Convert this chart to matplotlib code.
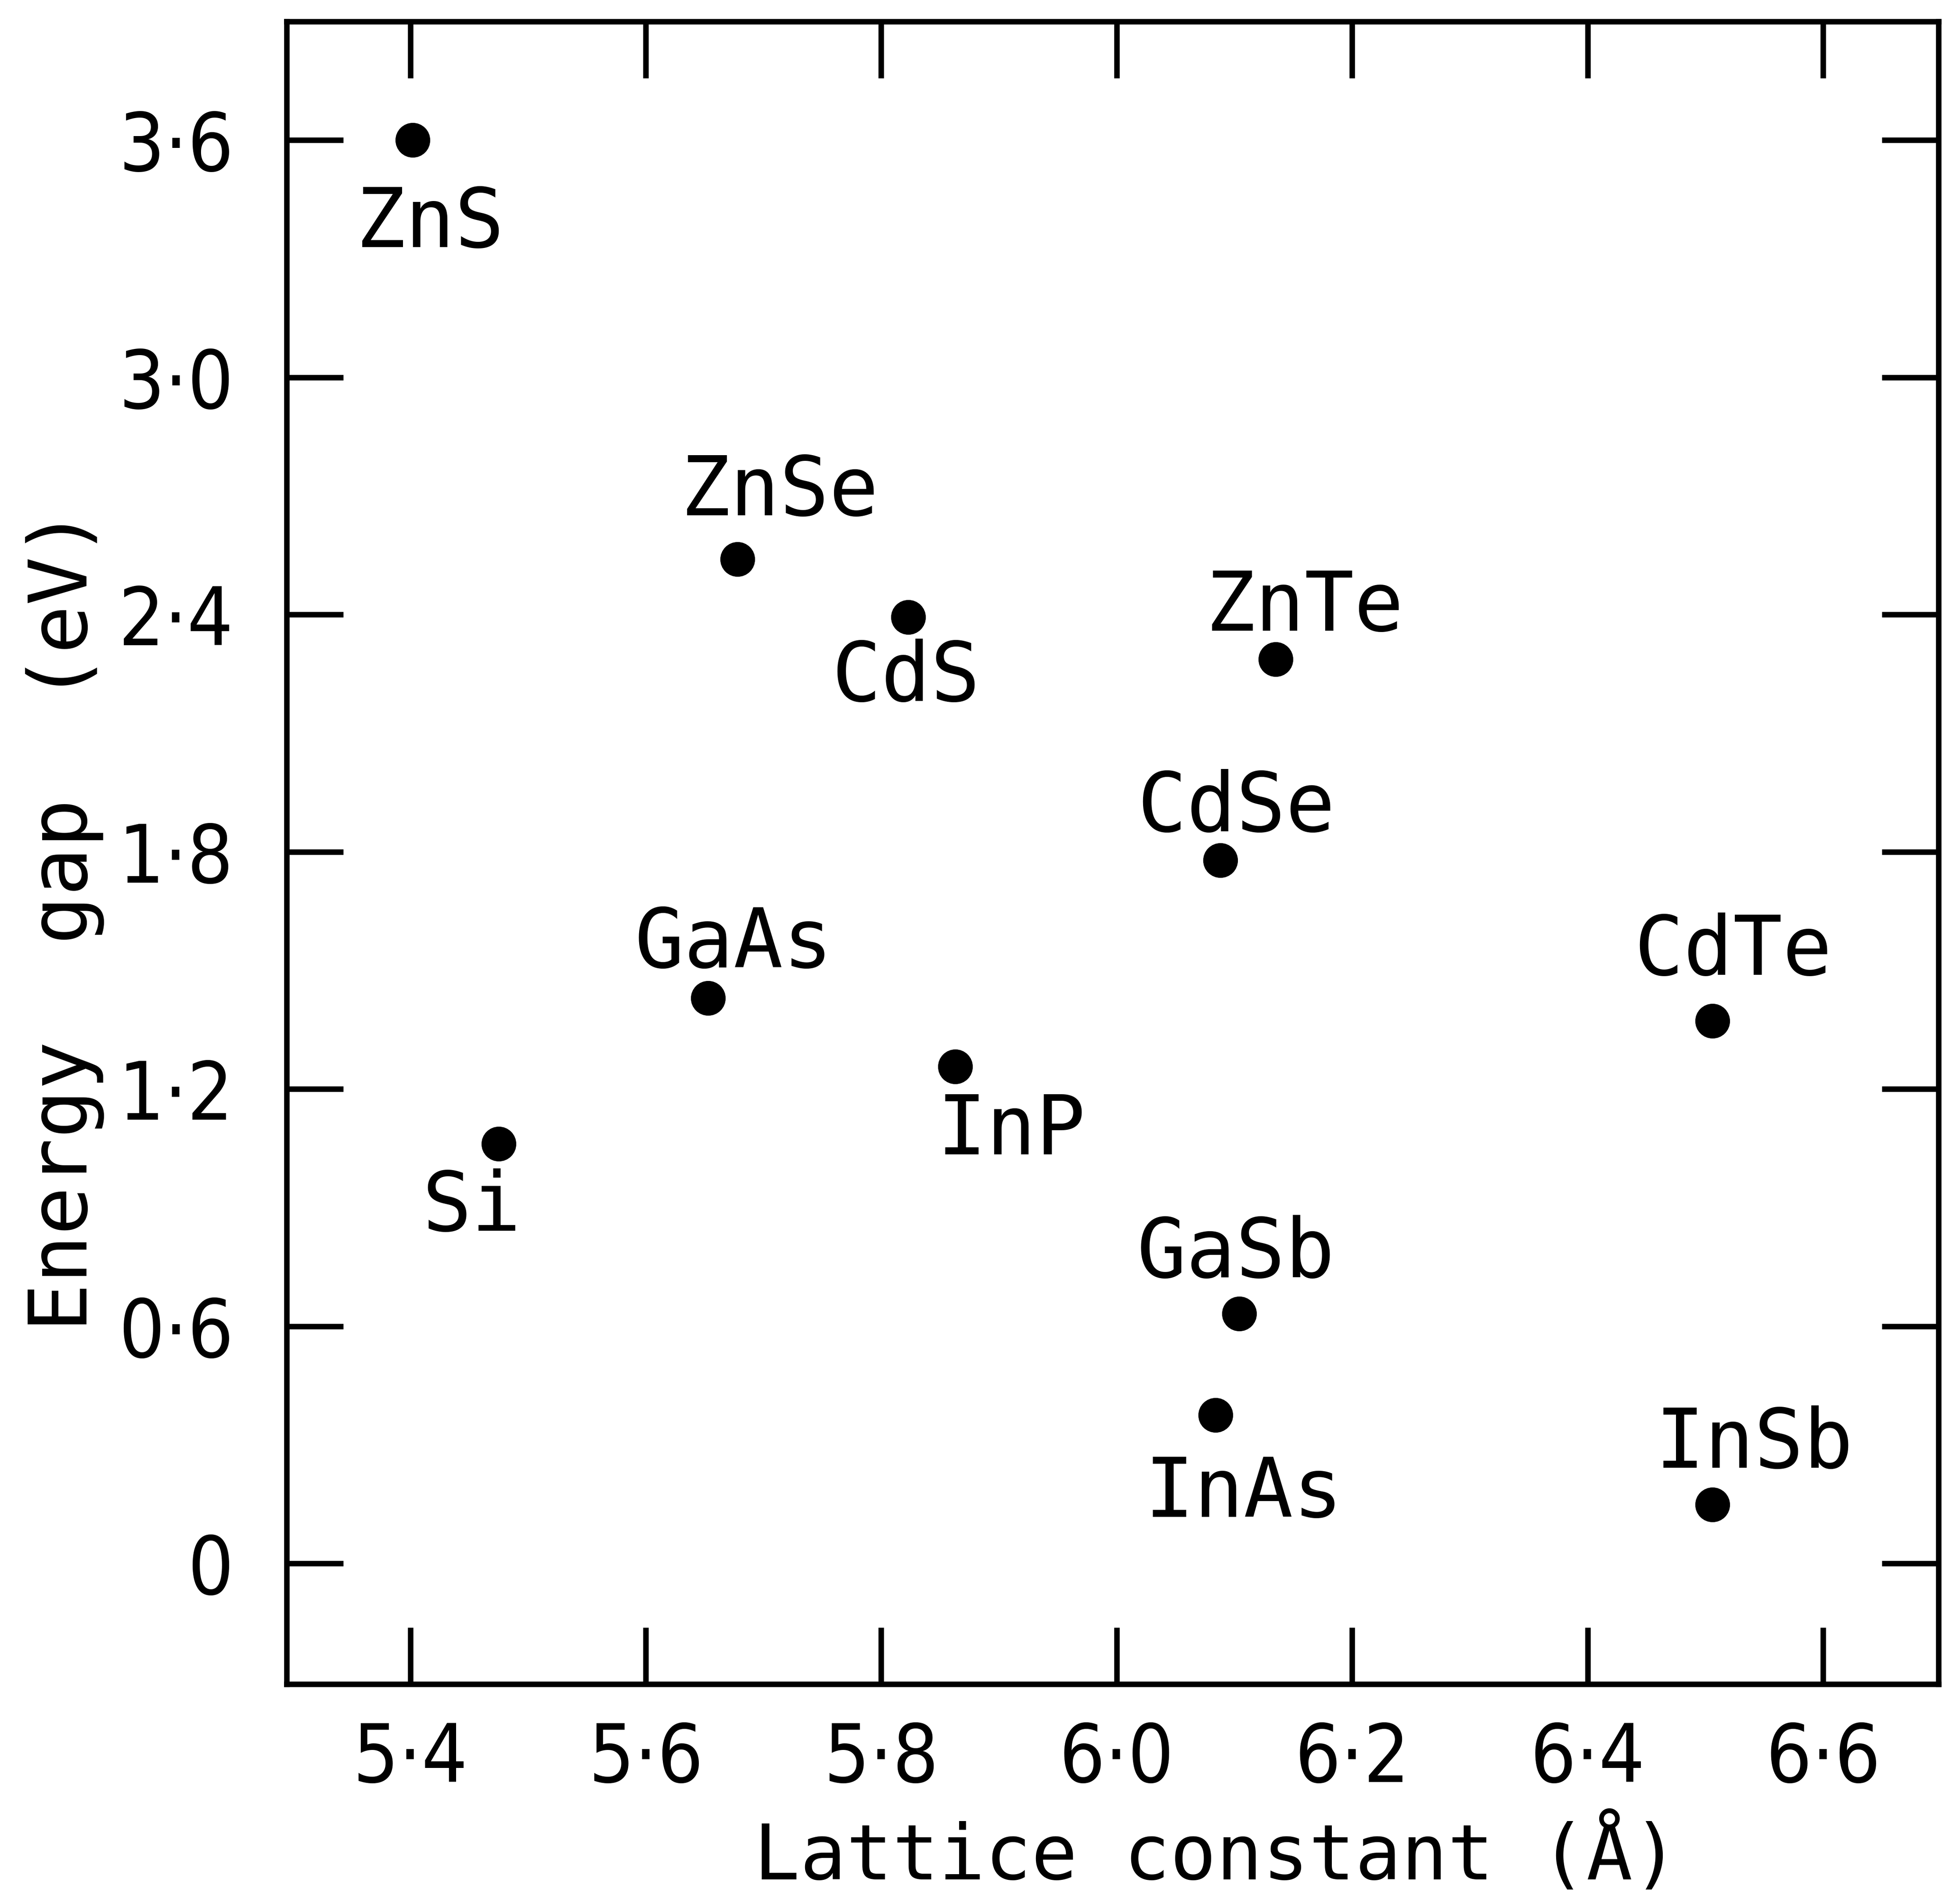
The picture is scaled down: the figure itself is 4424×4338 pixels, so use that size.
import matplotlib
matplotlib.use("Agg")
import matplotlib.pyplot as plt

# data
compounds = ["ZnS", "ZnSe", "CdS", "ZnTe", "CdSe", "GaAs",
             "CdTe", "InP", "Si", "GaSb", "InAs", "InSb"]
lattice = [5.402, 5.678, 5.823, 6.135, 6.088, 5.653,
           6.506, 5.863, 5.475, 6.104, 6.084, 6.506]
energy_gap = [3.600, 2.540, 2.394, 2.287, 1.779, 1.430,
              1.372, 1.257, 1.061, 0.632, 0.376, 0.149]

xticks = [5.4, 5.6, 5.8, 6.0, 6.2, 6.4, 6.6]
xticklabels = ["5·4", "5·6", "5·8", "6·0", "6·2", "6·4", "6·6"]
yticks = [0, 0.6, 1.2, 1.8, 2.4, 3.0, 3.6]
yticklabels = ["0", "0·6", "1·2", "1·8", "2·4", "3·0", "3·6"]

# label offsets (points) from each dot: centre x, baseline y
label_offsets = [(9.6, -58.6), (23, 24), (-1.4, -46), (16, 15.6),
                 (8.6, 15.8), (14, 16.8), (11.3, 25.2), (30.7, -48),
                 (-14.9, -47.5), (-1.9, 19.9), (15.3, -55.9), (22.8, 20.2)]

mono = "DejaVu Sans Mono"

fig = plt.figure(figsize=(4424 / 300, 4338 / 300), dpi=300)
ax = fig.add_axes([0.1476, 0.1155, 0.8506, 0.8732])

ax.plot(lattice, energy_gap, "o", color="black", markersize=18, linestyle="none")

for name, x, y, (dx, dy) in zip(compounds, lattice, energy_gap, label_offsets):
    ax.annotate(name, (x, y), xytext=(dx, dy), textcoords="offset points",
                ha="center", va="baseline", fontsize=45, family=mono)

ax.set_xlim(5.295, 6.698)
ax.set_ylim(-0.305, 3.9)

ax.set_xticks(xticks)
ax.set_xticklabels(xticklabels)
ax.set_yticks(yticks)
ax.set_yticklabels(yticklabels)

ax.tick_params(axis="both", which="major", direction="in", length=31, width=3,
               top=True, right=True, labelsize=44, color="black")
ax.tick_params(axis="x", pad=20)
ax.tick_params(axis="y", pad=29)
for lab in ax.get_xticklabels() + ax.get_yticklabels():
    lab.set_family("DejaVu Sans")
    lab.set_fontstretch("condensed")

for sp in ax.spines.values():
    sp.set_linewidth(3)
    sp.set_color("black")

ax.set_xlabel("Lattice constant (Å)", fontsize=42, family=mono, va="baseline")
ax.xaxis.set_label_coords(0.5628, -0.1175)
ax.set_ylabel("Energy  gap  (eV)", fontsize=44, family=mono, va="baseline")
ax.yaxis.set_label_coords(-0.1209, 0.4596)

fig.savefig("out.png", dpi=300)
